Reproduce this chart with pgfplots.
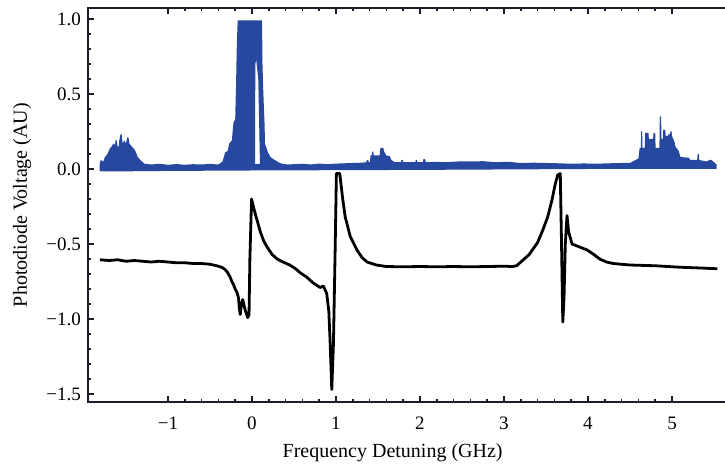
\documentclass[border=0pt]{standalone}
\usepackage{fontspec}
\setmainfont{Liberation Serif}
\usepackage{pgfplots}
\pgfplotsset{compat=1.18}

\definecolor{trace}{RGB}{38,72,158}
\definecolor{frame}{RGB}{28,28,40}

\begin{document}
\begin{tikzpicture}
\begin{axis}[
  scale only axis,
  width=319.3pt, height=197pt,
  xmin=-1.952, xmax=5.65,
  ymin=-1.553, ymax=1.073,
  axis line style={line width=1.2pt, frame},
  xtick={-1,0,1,2,3,4,5},
  xticklabels={−1,0,1,2,3,4,5},
  ytick={-1.5,-1,-0.5,0,0.5,1},
  yticklabels={−1.5,−1.0,−0.5,0.0,0.5,1.0},
  minor x tick num=4, minor y tick num=4,
  ytick pos=left,
  tick align=inside,
  major tick length=3pt, minor tick length=1.6pt,
  tick style={line width=0.8pt, frame},
  ticklabel style={font=\fontsize{9.5}{11}\selectfont},
  xticklabel style={yshift=-4pt},
  label style={font=\fontsize{9.5}{11}\selectfont},
  xlabel={Frequency Detuning (GHz)},
  ylabel={Photodiode Voltage (AU)},
  every axis x label/.style={at={([yshift=-25.5pt]axis description cs:0.477,0)}, anchor=center},
  every axis y label/.style={at={([xshift=-33pt]axis description cs:0,0.5)}, anchor=center, rotate=90},
  clip=true,
]
\coordinate (SW) at (rel axis cs:0,0);
\coordinate (NE) at (rel axis cs:1,1);

% transmission signal: baseline band with the two side features
\addplot[fill=trace, draw=none] coordinates {
(-1.815,0.03) (-1.80,0.06) (-1.77,0.05) (-1.75,0.08) (-1.72,0.10) (-1.69,0.14)
(-1.67,0.15) (-1.65,0.17) (-1.63,0.16) (-1.625,0.19) (-1.61,0.19) (-1.60,0.15)
(-1.585,0.15) (-1.58,0.19) (-1.565,0.23) (-1.55,0.23) (-1.54,0.17) (-1.52,0.19)
(-1.50,0.17) (-1.485,0.21) (-1.47,0.21) (-1.46,0.17) (-1.43,0.15) (-1.40,0.13)
(-1.38,0.11) (-1.36,0.08) (-1.33,0.06) (-1.31,0.05) (-1.28,0.035) (-1.2,0.03)
(-1.1,0.035) (-1.0,0.028) (-0.9,0.033) (-0.8,0.028) (-0.7,0.032) (-0.6,0.03)
(-0.5,0.034) (-0.4,0.03) (0.3,0.035) (0.4,0.03) (0.5,0.032) (0.6,0.035) (0.7,0.03)
(0.8,0.036) (0.9,0.032) (1.0,0.036) (1.1,0.038) (1.2,0.04) (1.3,0.042) (1.36,0.045)
(1.37,0.06) (1.385,0.06) (1.39,0.045) (1.405,0.045) (1.41,0.09) (1.425,0.09)
(1.43,0.115) (1.445,0.115) (1.45,0.09) (1.52,0.09) (1.525,0.13) (1.535,0.14)
(1.565,0.14) (1.57,0.12) (1.6,0.09) (1.64,0.085) (1.66,0.06) (1.7,0.045)
(1.775,0.045) (1.78,0.06) (1.795,0.06) (1.8,0.045) (1.945,0.045) (1.95,0.06)
(1.965,0.06) (1.97,0.045) (2.035,0.045) (2.04,0.065) (2.06,0.065) (2.07,0.045)
(2.2,0.048) (2.3,0.045) (2.45,0.05) (2.6,0.05) (2.75,0.052) (2.9,0.045) (3.05,0.048)
(3.2,0.04) (3.35,0.042) (3.5,0.04) (3.65,0.038) (3.8,0.035) (3.95,0.037) (4.1,0.035)
(4.25,0.038) (4.4,0.04) (4.5,0.04) (4.55,0.055) (4.6,0.07) (4.615,0.14)
(4.63,0.14) (4.632,0.25) (4.645,0.25) (4.648,0.14) (4.675,0.14) (4.68,0.24)
(4.72,0.24) (4.725,0.20) (4.775,0.20) (4.78,0.24) (4.80,0.24) (4.805,0.14)
(4.85,0.14) (4.855,0.35) (4.87,0.35) (4.875,0.20) (4.89,0.20) (4.895,0.26)
(4.92,0.26) (4.925,0.22) (4.95,0.22) (4.955,0.23) (4.975,0.23) (4.98,0.25)
(4.995,0.25) (5.0,0.22) (5.03,0.18) (5.04,0.15) (5.08,0.12) (5.10,0.08)
(5.2,0.075) (5.22,0.06) (5.3,0.06) (5.305,0.10) (5.32,0.10) (5.325,0.06)
(5.41,0.05) (5.45,0.06) (5.47,0.06) (5.50,0.045) (5.53,0.03)
(5.53,0.0) (5.0,0.0) (4.0,0.0) (3.0,-0.003) (2.0,-0.006) (1.0,-0.008)
(0.0,-0.01) (-1.0,-0.013) (-1.6,-0.016) (-1.815,-0.015)
};

% transmission signal: central saturated peak with its narrow dip
\addplot[fill=trace, draw=none] coordinates {
(-0.40,0.03) (-0.35,0.05) (-0.32,0.11) (-0.29,0.12) (-0.27,0.17) (-0.24,0.19)
(-0.22,0.31) (-0.20,0.33) (-0.19,0.55) (-0.18,0.84) (-0.17,0.99) (0.12,0.99)
(0.125,0.70) (0.135,0.51) (0.15,0.30) (0.155,0.17) (0.19,0.11) (0.22,0.08)
(0.27,0.06) (0.33,0.04) (0.40,0.03)
(0.40,-0.005) (0.10,-0.005) (0.095,0.03) (0.075,0.60) (0.05,0.73) (0.04,0.70)
(0.036,0.03) (-0.40,-0.005)
};

% reference spectrum
\addplot[black, line width=1.4pt, line join=round] coordinates {
(-1.81,-0.605) (-1.7,-0.61) (-1.6,-0.605) (-1.5,-0.615) (-1.4,-0.61) (-1.3,-0.615)
(-1.2,-0.62) (-1.1,-0.615) (-1.0,-0.62) (-0.9,-0.625) (-0.8,-0.625) (-0.7,-0.63)
(-0.6,-0.63) (-0.5,-0.635) (-0.42,-0.645) (-0.36,-0.655) (-0.32,-0.67) (-0.29,-0.69)
(-0.26,-0.72) (-0.24,-0.75) (-0.22,-0.77) (-0.20,-0.80) (-0.18,-0.82) (-0.16,-0.86)
(-0.15,-0.93) (-0.14,-0.97) (-0.125,-0.90) (-0.11,-0.87) (-0.09,-0.92) (-0.07,-0.96)
(-0.05,-0.99) (-0.035,-0.97) (-0.025,-0.60) (-0.005,-0.20) (0.03,-0.28) (0.06,-0.34)
(0.10,-0.42) (0.14,-0.48) (0.18,-0.52) (0.24,-0.57) (0.30,-0.60) (0.37,-0.62)
(0.45,-0.64) (0.52,-0.665) (0.57,-0.69) (0.65,-0.72) (0.73,-0.76) (0.81,-0.79)
(0.85,-0.78) (0.89,-0.83) (0.915,-0.95) (0.93,-1.15) (0.95,-1.47) (0.97,-1.16)
(0.99,-0.54) (1.005,-0.03) (1.045,-0.03) (1.08,-0.20) (1.11,-0.32) (1.17,-0.45)
(1.25,-0.54) (1.31,-0.59) (1.37,-0.62) (1.48,-0.64) (1.60,-0.65) (1.8,-0.652)
(2.0,-0.65) (2.2,-0.652) (2.4,-0.65) (2.6,-0.652) (2.8,-0.65) (3.0,-0.648) (3.1,-0.65)
(3.15,-0.645) (3.2,-0.62) (3.3,-0.57) (3.4,-0.49) (3.46,-0.41) (3.52,-0.32)
(3.57,-0.21) (3.61,-0.10) (3.64,-0.04) (3.67,-0.03) (3.685,-0.50) (3.70,-1.02)
(3.715,-0.85) (3.73,-0.50) (3.75,-0.31) (3.77,-0.42) (3.81,-0.50) (3.90,-0.52)
(3.99,-0.54) (4.07,-0.57) (4.14,-0.60) (4.22,-0.62) (4.30,-0.63) (4.5,-0.64)
(4.8,-0.645) (5.1,-0.655) (5.35,-0.66) (5.54,-0.665)
};
\end{axis}
\pgfresetboundingbox
\path ([xshift=-44pt,yshift=-31pt]SW) rectangle ([xshift=-0.8pt,yshift=4pt]NE);
\end{tikzpicture}
\end{document}
